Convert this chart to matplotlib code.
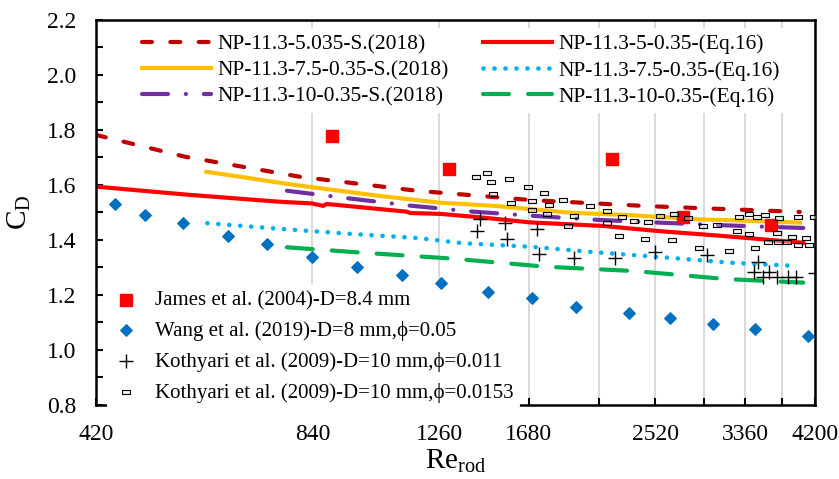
import matplotlib
matplotlib.use('Agg')
import matplotlib.pyplot as plt
from matplotlib.ticker import FixedLocator, MultipleLocator

plt.rcParams['font.family'] = ['Liberation Serif', 'DejaVu Serif']
plt.rcParams['mathtext.fontset'] = 'custom'
plt.rcParams['mathtext.rm'] = 'Liberation Serif'
plt.rcParams['lines.scale_dashes'] = False

# 曲线数据 (Re_rod, C_D)
s5_x = [420, 558, 807, 1173, 1695, 2463, 4000]
s5_y = [1.782, 1.703, 1.630, 1.579, 1.545, 1.523, 1.502]
eq5_x = [420, 567, 757, 838, 870, 879, 1136, 1148, 1264, 1436, 1686, 2132, 2530, 3131, 4045]
eq5_y = [1.594, 1.564, 1.539, 1.533, 1.524, 1.531, 1.503, 1.498, 1.495, 1.4825, 1.464, 1.451, 1.433, 1.4145, 1.390]
s75_x = [598, 666, 782, 838, 1043, 1264, 1515, 1917, 2298, 2906, 3485, 4003]
s75_y = [1.648, 1.630, 1.6025, 1.592, 1.560, 1.5355, 1.5236, 1.499, 1.491, 1.475, 1.469, 1.463]
eq75_x = [600, 770, 953, 1179, 1362, 1686, 2087, 2584, 3199, 3961]
eq75_y = [1.461, 1.439, 1.422, 1.407, 1.388, 1.3756, 1.355, 1.337, 1.3175, 1.3055]
s10_x = [774, 942, 1148, 1406, 1719, 2098, 2557, 3131, 4045]
s10_y = [1.579, 1.5516, 1.525, 1.503, 1.487, 1.473, 1.463, 1.4535, 1.4436]
eq10_x = [774, 984, 1319, 1769, 2360, 3158, 4045]
eq10_y = [1.3735, 1.354, 1.332, 1.303, 1.287, 1.258, 1.245]

# 试验点
james_x = [894, 1301, 2193, 2752, 3648]
james_y = [1.778, 1.658, 1.695, 1.484, 1.455]
wang_x = [446, 491, 555, 641, 726, 839, 969, 1119, 1268, 1474, 1697, 1954, 2315, 2640, 3029, 3466, 4107]
wang_y = [1.531, 1.491, 1.462, 1.415, 1.385, 1.338, 1.302, 1.273, 1.244, 1.211, 1.189, 1.156, 1.135, 1.116, 1.095, 1.076, 1.051]
k011_x = [1436, 1422, 1558, 1566, 1723, 1737, 1943, 2213, 2516, 2975, 3497, 3456, 3554, 3622, 3723, 3856, 3952, 4196]
k011_y = [1.475, 1.434, 1.461, 1.403, 1.439, 1.349, 1.336, 1.333, 1.357, 1.345, 1.321, 1.285, 1.264, 1.283, 1.267, 1.267, 1.267, 1.279]
k0153_x = [1418, 1468, 1489, 1575, 1499, 1588, 1675, 1765, 1697, 1793, 1876, 1697, 1782, 1906, 2042, 1939,
           2155, 2261, 2352, 2457, 2160, 2557, 2677, 2799, 2244, 2439, 2657, 2900, 2931, 3066, 3294, 3405,
           3493, 3583, 3748, 3982, 4190, 3273, 3405, 3723, 3902, 4077, 3610, 3731, 3844, 3982, 4116, 3192, 3466]
k0153_y = [1.628, 1.645, 1.612, 1.621, 1.568, 1.536, 1.594, 1.571, 1.541, 1.528, 1.547, 1.508, 1.493, 1.452, 1.525, 1.487,
           1.507, 1.485, 1.470, 1.465, 1.461, 1.487, 1.495, 1.481, 1.415, 1.403, 1.401, 1.371, 1.451, 1.456, 1.485, 1.493,
           1.483, 1.490, 1.481, 1.483, 1.483, 1.433, 1.422, 1.427, 1.410, 1.407, 1.394, 1.393, 1.394, 1.382, 1.383, 1.36, 1.372]

xticks = [420 * k for k in range(1, 11)]
xlabels = ['420', '840', '1260', '1680', '', '2520', '', '3360', '', '4200']

fig = plt.figure(figsize=(8.39, 4.79), dpi=100)
ax = fig.add_axes([0.1144, 0.1545, 0.857, 0.8038])

l1, = ax.plot(s5_x, s5_y, color='#C00000', lw=3, dashes=(7.2, 13.2), dash_capstyle='round',
              label='NP-11.3-5.035-S.(2018)')
l2, = ax.plot(s75_x, s75_y, color='#FFC000', lw=3, label='NP-11.3-7.5-0.35-S.(2018)')
l3, = ax.plot(s10_x, s10_y, color='#7030A0', lw=3, dashes=(18.7, 12.85, 0.1, 12.85), dash_capstyle='round',
              label='NP-11.3-10-0.35-S.(2018)')
l4, = ax.plot(eq5_x, eq5_y, color='#FF0000', lw=3, label='NP-11.3-5-0.35-(Eq.16)')
l5, = ax.plot(eq75_x, eq75_y, color='#00B0F0', lw=3.3, dashes=(0.1, 7.8), dash_capstyle='round',
              label='NP-11.3-7.5-0.35-(Eq.16)')
l6, = ax.plot(eq10_x, eq10_y, color='#00B050', lw=3, dashes=(18.7, 13.7), dash_capstyle='round',
              label='NP-11.3-10-0.35-(Eq.16)')

rect = [(-1, -0.5), (1, -0.5), (1, 0.5), (-1, 0.5), (-1, -0.5)]
p1 = ax.scatter(james_x, james_y, marker='s', s=74, color='#FF0000', zorder=4,
                label='James et al. (2004)-D=8.4 mm')
p2 = ax.scatter(wang_x, wang_y, marker='D', s=34, color='#0070C0', zorder=4,
                label='Wang et al. (2019)-D=8 mm,ϕ=0.05')
p3 = ax.scatter(k011_x, k011_y, marker='+', s=90, color='black', linewidths=1.0, zorder=4,
                label='Kothyari et al. (2009)-D=10 mm,ϕ=0.011')
p4 = ax.scatter(k0153_x, k0153_y, marker=rect, s=30, facecolor=(0.85, 0.85, 0.85, 0.4),
                edgecolor='black', linewidths=0.8, zorder=4,
                label='Kothyari et al. (2009)-D=10 mm,ϕ=0.0153')

ax.set_xscale('log')
ax.set_xlim(420, 4200)
ax.set_ylim(0.8, 2.2)
ax.xaxis.set_major_locator(FixedLocator(xticks))
ax.xaxis.set_minor_locator(FixedLocator([]))
ax.set_xticklabels(xlabels)
ax.yaxis.set_major_locator(MultipleLocator(0.2))
ax.yaxis.set_minor_locator(MultipleLocator(0.1))
ax.yaxis.set_major_formatter(matplotlib.ticker.FormatStrFormatter('%.1f'))
ax.tick_params(axis='both', which='both', direction='in', length=5, width=1.5, labelsize=17, pad=14)
ax.grid(axis='x', which='major', color='#CFCFCF', lw=1.1)
ax.set_axisbelow(True)
for sp in ax.spines.values():
    sp.set_linewidth(1.8)

ax.set_xlabel(r'$\mathregular{Re_{rod}}$', fontsize=21, labelpad=2)
ax.set_ylabel(r'$\mathregular{C_D}$', fontsize=21, labelpad=10)

leg1 = ax.legend(handles=[l1, l2, l3, l4, l5, l6], ncol=2, loc='upper left',
                 bbox_to_anchor=(0.0556, 0.980), borderaxespad=0, borderpad=0.3,
                 fontsize=15.5, handlelength=3.2, handletextpad=0.28, columnspacing=1.6,
                 labelspacing=0.29, frameon=True, facecolor='white', edgecolor='none', framealpha=1)
ax.add_artist(leg1)
leg2 = ax.legend(handles=[p1, p2, p3, p4], loc='lower left', bbox_to_anchor=(0.0158, -0.01),
                 borderaxespad=0, borderpad=0.3, fontsize=15, handlelength=1.2, handletextpad=0.8,
                 labelspacing=0.52, scatterpoints=1, frameon=True, facecolor='white',
                 edgecolor='none', framealpha=1)
leg2.set_zorder(3)

fig.savefig('out.png', dpi=100)
